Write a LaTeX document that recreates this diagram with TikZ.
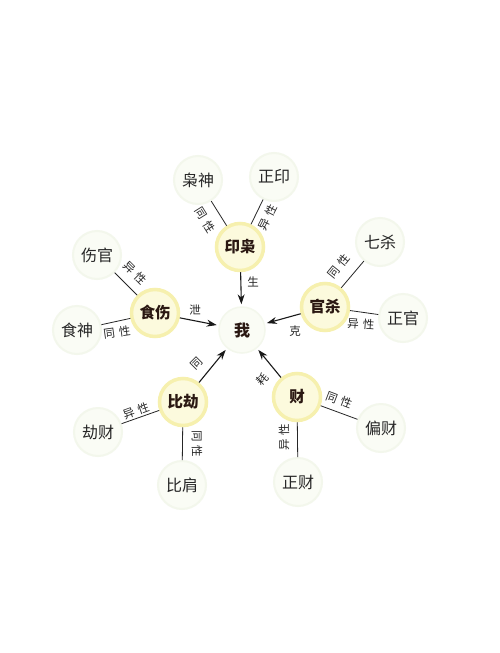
\documentclass[tikz,border=0pt]{standalone}
\usepackage{fontspec}
\setmainfont{Noto Sans CJK SC}
\usetikzlibrary{arrows.meta}
\definecolor{corefill}{HTML}{FCFADD}
\definecolor{corering}{HTML}{F6F0AE}
\definecolor{leaffill}{HTML}{FAFCF5}
\definecolor{leafring}{HTML}{F3F7EC}
\definecolor{ink}{HTML}{2A1812}
\newcommand\lgap{\hspace{4pt}}
\begin{document}
\begin{tikzpicture}[x=1pt,y=-1pt,
  core/.style={circle, minimum size=47pt, inner sep=0pt, fill=corefill, draw=corering, line width=3.5pt, font=\fontsize{15.5}{15.5}\selectfont\bfseries, text=ink},
  leaf/.style={circle, minimum size=48pt, inner sep=0pt, fill=leaffill, draw=leafring, line width=2pt, font=\fontsize{16}{16}\selectfont, text=black!85},
  me/.style={circle, minimum size=46pt, inner sep=0pt, fill=leaffill, draw=leafring, line width=1.5pt, font=\fontsize{16}{16}\selectfont\bfseries, text=ink},
  lbl/.style={font=\fontsize{11.5}{11.5}\selectfont, text=black!85, inner sep=0pt},
  link/.style={line width=0.8pt, draw=black!85},
  flow/.style={line width=1.1pt, draw=black!90, -{Stealth[length=10pt,width=7pt]}, shorten >=2pt}
]
\fill[white] (0,0) rectangle (500,653);
\useasboundingbox (0,0) rectangle (500,653);

% centre and inner ring
\node[me] (wo) at (242,330) {我};
\node[core] (yx) at (240,247) {印枭};
\node[core] (gs) at (325,307) {官杀};
\node[core] (cai) at (297,397) {财};
\node[core] (bj) at (183,402) {比劫};
\node[core] (ss) at (155,313) {食伤};

% outer ring
\node[leaf] (xs) at (198,180) {枭神};
\node[leaf] (zy) at (274,177) {正印};
\node[leaf] (qs) at (380,242) {七杀};
\node[leaf] (zg) at (403,318) {正官};
\node[leaf] (pc) at (381,428) {偏财};
\node[leaf] (zc) at (298,482) {正财};
\node[leaf] (bjian) at (182,485) {比肩};
\node[leaf] (jc) at (98,432) {劫财};
\node[leaf] (shen) at (77,330) {食神};
\node[leaf] (sg) at (97,255) {伤官};

% arrows to centre
\draw[flow] (yx) -- (wo);
\draw[flow] (ss) -- (wo);
\draw[flow] (gs) -- (wo);
\draw[flow] (bj) -- (wo);
\draw[flow] (cai) -- (wo);

\node[lbl] (l1) at (253,282) {生};
\node[lbl] (l2) at (195,310) {泄};
\node[lbl] (l3) at (295,331) {克};
\node[lbl, rotate=45] (l4) at (197,364) {同};
\node[lbl, rotate=45] (l5) at (262,379) {耗};

% links to outer ring
\draw[link] (yx) -- (xs);
\draw[link] (yx) -- (zy);
\draw[link] (gs) -- (qs);
\draw[link] (gs) -- (zg);
\draw[link] (cai) -- (pc);
\draw[link] (cai) -- (zc);
\draw[link] (bj) -- (bjian);
\draw[link] (bj) -- (jc);
\draw[link] (ss) -- (shen);
\draw[link] (ss) -- (sg);

\node[lbl, rotate=-58] (m1) at (205,220) {同\lgap 性};
\node[lbl, rotate=63] (m2) at (268,217) {异\lgap 性};
\node[lbl, rotate=51] (m3) at (339,266) {同\lgap 性};
\node[lbl, rotate=-4] (m4) at (361,324) {异\lgap 性};
\node[lbl, rotate=-21] (m5) at (339,400) {同\lgap 性};
\node[lbl, rotate=90] (m6) at (284,437) {异\lgap 性};
\node[lbl, rotate=-90] (m7) at (197,444) {同\lgap 性};
\node[lbl, rotate=20] (m8) at (136,411) {异\lgap 性};
\node[lbl, rotate=8] (m9) at (117,332) {同\lgap 性};
\node[lbl, rotate=-45] (m10) at (135,273) {异\lgap 性};
\end{tikzpicture}
\end{document}
